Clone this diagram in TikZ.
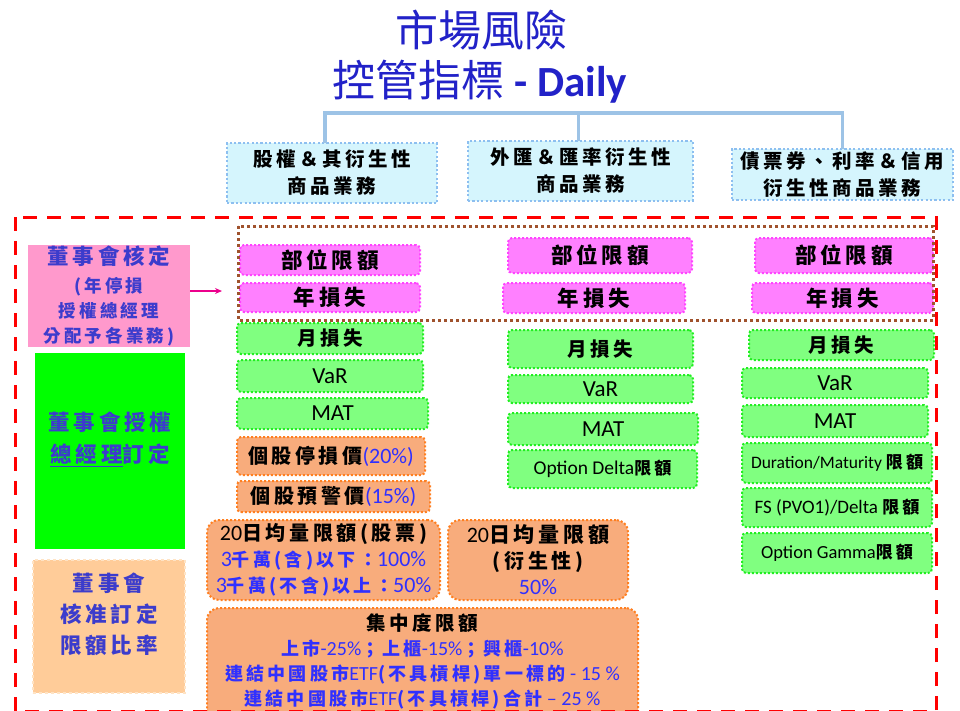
\documentclass[tikz,border=0pt]{standalone}
\usepackage{fontspec}
\setmainfont{Carlito}
\newfontfamily\cjk[LetterSpace=18]{Noto Sans CJK TC}
\newfontfamily\cjkt{Noto Sans CJK TC}
\usetikzlibrary{arrows.meta,calc}
\definecolor{titleblue}{HTML}{2222C8}
\definecolor{connblue}{HTML}{9DC3E6}
\definecolor{topfill}{HTML}{D5F5FD}
\definecolor{topline}{HTML}{8DBFF0}
\definecolor{pinkfill}{HTML}{FF80FF}
\definecolor{pinkline}{HTML}{FF44FF}
\definecolor{greenfill}{HTML}{80FF80}
\definecolor{greenline}{HTML}{22EE22}
\definecolor{orangefill}{HTML}{F8AC7C}
\definecolor{orangeline}{HTML}{FF7F20}
\definecolor{bluetxt}{HTML}{3030FF}
\definecolor{leftblue}{HTML}{3C3CCC}
\definecolor{lpinkfill}{HTML}{FF99CC}
\definecolor{lgreenfill}{HTML}{00FF00}
\definecolor{lorangefill}{HTML}{FFCC99}
\definecolor{lorangeline}{HTML}{FFE3C4}
\definecolor{brownframe}{HTML}{A0522D}
\newcommand\zhb[2]{{\fontsize{#1}{#1}\selectfont\cjk\bfseries #2}}
\tikzset{
  every node/.style={inner sep=0pt, outer sep=0pt},
  titlefont/.style={text=titleblue, font=\fontsize{43}{50}\selectfont\cjkt},
  topbox/.style={draw=topline, fill=topfill, line width=2.2pt, dash pattern=on 2.2pt off 2.2pt, align=center, font=\fontsize{19.5}{27}\selectfont\cjk\bfseries},
  pbox/.style={draw=pinkline, fill=pinkfill, line width=2pt, dash pattern=on 2pt off 2pt, rounded corners=4pt, font=\fontsize{21.5}{26}\selectfont\cjk\bfseries},
  gbox/.style={draw=greenline, fill=greenfill, line width=2pt, dash pattern=on 2pt off 2pt, rounded corners=4pt, font=\fontsize{23}{26}\selectfont},
  obox/.style={draw=orangeline, fill=orangefill, line width=2pt, dash pattern=on 2pt off 2pt, rounded corners=4pt, font=\fontsize{22}{26}\selectfont},
  bigobox/.style={obox, rounded corners=12pt, align=center},
  conn/.style={draw=connblue, line width=3.5pt},
  lpink/.style={fill=lpinkfill, align=center, text=leftblue, font=\fontsize{17.5}{25}\selectfont\cjk\bfseries},
  lgreen/.style={fill=lgreenfill},
  lorange/.style={fill=lorangefill, draw=lorangeline, line width=2pt, dash pattern=on 3pt off 3pt},
  lefttext/.style={align=center, text=leftblue, font=\fontsize{21.5}{32}\selectfont\cjk\bfseries},
  arrowstyle/.style={draw=magenta, line width=1.5pt, -{Stealth[length=7pt,width=6pt]}},
  brownstyle/.style={draw=brownframe, line width=3pt, dash pattern=on 3pt off 3pt},
  redstyle/.style={draw=red, line width=3pt, dash pattern=on 14pt off 10pt}
}
\begin{document}
\begin{tikzpicture}[x=1pt,y=-1pt]
\useasboundingbox (0,0) rectangle (960,710);
\fill[white] (0,0) rectangle (960,710);

% title
\node[titlefont] (ttl1) at (481,30) {市場風險};
\node[titlefont] (ttl2) at (480,82) {控管指標{\rmfamily\bfseries\ - Daily}};

% top business boxes
\node[topbox, minimum width=210, minimum height=60] (t1) at (332,173) {股權＆其衍生性\\商品業務};
\node[topbox, minimum width=225, minimum height=60] (t2) at (580.5,171) {外匯＆匯率衍生性\\商品業務};
\node[topbox, minimum width=221, minimum height=51] (t3) at (842.5,174.5) {債票券、利率＆信用\\衍生性商品業務};
\coordinate (bar) at (0,113);
\draw[conn] ([xshift=-7pt]t1.north) -- ([xshift=-7pt]t1.north |- bar) -- (t3.north |- bar) -- (t3.north);
\draw[conn] ([xshift=-2pt]t2.north) -- ([xshift=-2pt]t2.north |- bar);

% left column
\node[lpink, minimum width=162, minimum height=102] (L1) at (109,296) {{\fontsize{21.5}{25}\selectfont 董事會核定}\\[3pt](年停損\\授權總經理\\分配予各業務)};
\node[lgreen, minimum width=150, minimum height=196] (L2) at (110,451) {};
\node[lefttext] (L2t) at (110,439) {董事會授權\\\underline{總經理}訂定};
\node[lorange, minimum width=152, minimum height=133] (L3) at (109,626.5) {};
\node[lefttext, font=\fontsize{21.5}{31}\selectfont\cjk\bfseries] (L3t) at (109,614) {董事會\\核准訂定\\限額比率};

% column 1
\node[pbox, minimum width=180, minimum height=30] (c1a) at (330,260) {部位限額};
\node[pbox, minimum width=180, minimum height=29] (c1b) at (330,297.5) {年損失};
\node[gbox, minimum width=186, minimum height=31] (c1c) at (330,338.5) {\zhb{19.5}{月損失}};
\node[gbox, minimum width=186, minimum height=32] (c1d) at (330,376) {VaR};
\node[gbox, minimum width=191, minimum height=31] (c1e) at (332.5,413.5) {MAT};
\node[obox, minimum width=188, minimum height=38] (c1f) at (331,456) {\zhb{20}{個股停損價}\textcolor{bluetxt}{(20\%)}};
\node[obox, minimum width=193, minimum height=31] (c1g) at (333.5,496.5) {\zhb{20}{個股預警價}\textcolor{bluetxt}{(15\%)}};

% column 2
\node[pbox, minimum width=184, minimum height=35] (c2a) at (600,255.5) {部位限額};
\node[pbox, minimum width=182, minimum height=30] (c2b) at (594,298) {年損失};
\node[gbox, minimum width=185, minimum height=38] (c2c) at (600.5,349) {\zhb{19.5}{月損失}};
\node[gbox, minimum width=185, minimum height=28] (c2d) at (600.5,389) {VaR};
\node[gbox, minimum width=190, minimum height=32] (c2e) at (603,429) {MAT};
\node[gbox, minimum width=189, minimum height=38] (c2f) at (602.5,469) {\fontsize{19.5}{20}\selectfont Option Delta\zhb{17}{限額}};

% column 3
\node[pbox, minimum width=178, minimum height=35] (c3a) at (844,255.5) {部位限額};
\node[pbox, minimum width=181, minimum height=30] (c3b) at (842.5,298) {年損失};
\node[gbox, minimum width=185, minimum height=30] (c3c) at (841.5,345) {\zhb{19.5}{月損失}};
\node[gbox, minimum width=186, minimum height=30] (c3d) at (835,383) {VaR};
\node[gbox, minimum width=186, minimum height=32] (c3e) at (835,421) {MAT};
\node[gbox, minimum width=190, minimum height=40] (c3f) at (837,463) {\fontsize{17.5}{18}\selectfont Duration/Maturity \zhb{17}{限額}};
\node[gbox, minimum width=190, minimum height=39] (c3g) at (837,507.5) {\fontsize{19}{20}\selectfont FS (PVO1)/Delta \zhb{17}{限額}};
\node[gbox, minimum width=190, minimum height=40] (c3h) at (837,553) {\fontsize{18.5}{19}\selectfont Option Gamma\zhb{17}{限額}};

% bottom boxes
\node[bigobox, minimum width=233, minimum height=80] (b1) at (323.5,560)
  {20\zhb{20}{日均量限額(股票)}\\
   \textcolor{bluetxt}{3\zhb{18}{千萬(含)以下：}100\%}\\
   \textcolor{bluetxt}{3\zhb{18}{千萬(不含)以上：}50\%}};
\node[bigobox, minimum width=180, minimum height=80] (b2) at (538,560)
  {20\zhb{21}{日均量限額}\\
   \zhb{20}{(衍生性)}\\
   \textcolor{bluetxt}{50\%}};
\node[bigobox, minimum width=431, minimum height=125, anchor=north] (b3) at (422.5,608) {};
\node[anchor=north, align=center, font=\fontsize{20}{25}\selectfont] (b3t) at ([yshift=-6pt]b3.north)
  {\zhb{19.5}{集中度限額}\\
   \textcolor{bluetxt}{\zhb{18}{上市}-25\%\zhb{18}{；上櫃}-15\%\zhb{18}{；興櫃}-10\%}\\
   \textcolor{bluetxt}{\zhb{18}{連結中國股市}ETF\zhb{18}{(不具槓桿)單一標的} - 15 \%}\\
   \textcolor{bluetxt}{\zhb{18}{連結中國股市}ETF\zhb{18}{(不具槓桿)合計} – 25 \%}};

% arrow
\coordinate (arrtip) at (222,291);
\draw[arrowstyle] (L1.east |- arrtip) -- (arrtip);

% frames
\draw[brownstyle] (238,226) rectangle (933,320);
\draw[redstyle] (15,217) rectangle (936,711);
\end{tikzpicture}
\end{document}
